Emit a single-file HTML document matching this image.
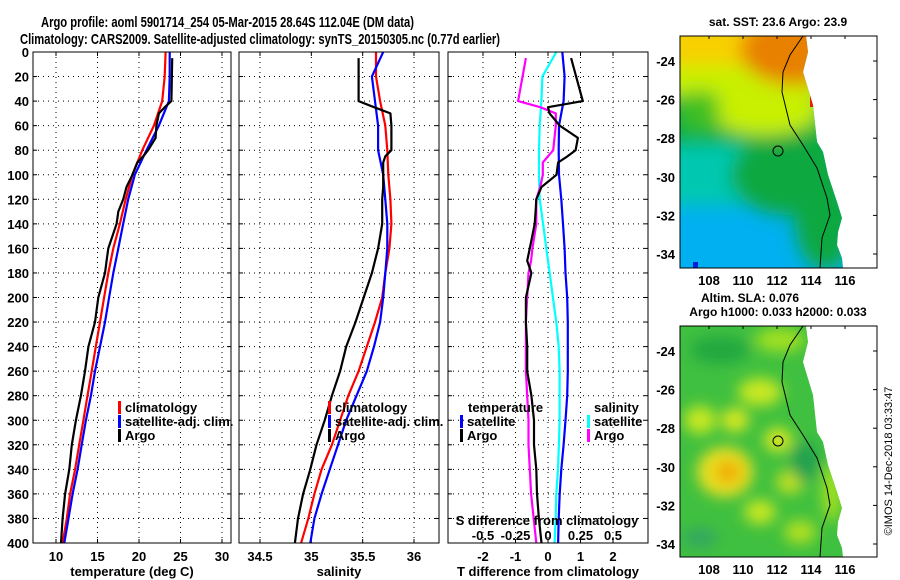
<!DOCTYPE html>
<html><head><meta charset="utf-8"><style>
html,body{margin:0;padding:0;background:#fff;}
svg{display:block;font-family:"Liberation Sans",sans-serif;font-weight:bold;}
</style></head><body>
<svg id="fig" width="900" height="580" viewBox="0 0 900 580" xmlns="http://www.w3.org/2000/svg">
<defs>
<filter id="blur1" x="-20%" y="-20%" width="140%" height="140%"><feGaussianBlur stdDeviation="9"/></filter>
<filter id="blur2" x="-20%" y="-20%" width="140%" height="140%"><feGaussianBlur stdDeviation="7"/></filter>
<clipPath id="cm1"><path d="M680,36 L806,36 L808,52 L803,72 L813,105 L817,142 L823,152 L828,175 L837,202 L842,218 L838,232 L837,245 L842,258 L843,268 L680,268 Z"/></clipPath>
<clipPath id="cm2"><path d="M680,326 L806,326 L808,342 L803,362 L813,395 L817,432 L823,442 L828,465 L837,492 L842,508 L838,522 L837,535 L842,548 L843,557 L680,557 Z"/></clipPath>
</defs>
<text x="41" y="27" font-size="15" textLength="373" lengthAdjust="spacingAndGlyphs">Argo profile: aoml 5901714_254 05-Mar-2015 28.64S 112.04E (DM data)</text>
<text x="20" y="44" font-size="15" textLength="480" lengthAdjust="spacingAndGlyphs">Climatology: CARS2009. Satellite-adjusted climatology: synTS_20150305.nc (0.77d earlier)</text>
<g id="plots"></g>

<!-- Map 1: SST -->
<g>
<text x="778" y="26" font-size="12" text-anchor="middle">sat. SST: 23.6 Argo: 23.9</text>
<g clip-path="url(#cm1)">
<rect x="680" y="36" width="170" height="232" fill="#00b0f0"/>
<g filter="url(#blur1)">
<rect x="660" y="20" width="200" height="185" fill="#00c8b0"/>
<rect x="660" y="20" width="200" height="125" fill="#10b040"/>
<ellipse cx="790" cy="175" rx="60" ry="40" fill="#10a840"/>
<ellipse cx="825" cy="220" rx="30" ry="50" fill="#10a840"/>
<rect x="660" y="20" width="200" height="75" fill="#c8f000"/>
<ellipse cx="765" cy="110" rx="55" ry="25" fill="#c8f000"/>
<rect x="660" y="20" width="200" height="45" fill="#f8d000"/>
<ellipse cx="795" cy="50" rx="55" ry="35" fill="#e88000"/>
<ellipse cx="700" cy="110" rx="20" ry="20" fill="#40c020"/>
</g>
<rect x="810" y="95" width="8" height="12" fill="#e82000"/>
<rect x="693" y="262" width="5" height="6" fill="#0020e0"/>
</g>
<path d="M803,36 L790,55 L783,72 L782,92 L790,125 L803,145 L817,168 L827,198 L830,215 L822,238 L820,268" fill="none" stroke="#000" stroke-width="1"/>
<circle cx="778" cy="151" r="5" fill="none" stroke="#000" stroke-width="1"/>
<rect x="680" y="36" width="197" height="232" fill="none" stroke="#000" stroke-width="1"/>
</g>

<!-- Map 2: SLA -->
<g>
<text x="750" y="302" font-size="12" text-anchor="middle">Altim. SLA: 0.076</text>
<text x="778" y="316" font-size="12" text-anchor="middle">Argo h1000: 0.033 h2000: 0.033</text>
<g clip-path="url(#cm2)">
<rect x="680" y="326" width="170" height="231" fill="#40c040"/>
<g filter="url(#blur2)">
<ellipse cx="720" cy="350" rx="30" ry="14" fill="#20a840"/>
<ellipse cx="780" cy="340" rx="25" ry="12" fill="#a0e020"/>
<ellipse cx="760" cy="392" rx="22" ry="14" fill="#c8e820"/>
<ellipse cx="700" cy="420" rx="16" ry="14" fill="#c8e820"/>
<ellipse cx="735" cy="420" rx="14" ry="12" fill="#d8e820"/>
<ellipse cx="725" cy="472" rx="28" ry="25" fill="#e8e020"/>
<ellipse cx="728" cy="472" rx="14" ry="12" fill="#f0b000"/>
<ellipse cx="778" cy="440" rx="14" ry="12" fill="#d8e820"/>
<ellipse cx="790" cy="482" rx="14" ry="12" fill="#c0e020"/>
<ellipse cx="760" cy="512" rx="16" ry="12" fill="#c8e820"/>
<ellipse cx="805" cy="462" rx="14" ry="20" fill="#20a050"/>
<ellipse cx="700" cy="538" rx="18" ry="10" fill="#30a860"/>
<ellipse cx="800" cy="532" rx="16" ry="12" fill="#b0e020"/>
<ellipse cx="832" cy="492" rx="10" ry="30" fill="#a0e020"/>
</g>
</g>
<path d="M803,326 L790,345 L783,362 L782,382 L790,415 L803,435 L817,458 L827,488 L830,505 L822,528 L820,557" fill="none" stroke="#000" stroke-width="1"/>
<circle cx="778" cy="441" r="5" fill="none" stroke="#000" stroke-width="1"/>
<rect x="680" y="326" width="197" height="231" fill="none" stroke="#000" stroke-width="1"/>
</g>
<g id="mapaxes"></g>
<text transform="translate(892,461) rotate(-90)" font-size="11" font-weight="normal" text-anchor="middle">©IMOS 14-Dec-2018 03:33:47</text>
</svg>
<script>
const depths = [0,20,40,60,80,100,120,140,160,180,200,220,240,260,280,300,320,340,360,380,400];
const tempClim = [23.2,23.1,22.8,21.8,20.4,19.2,18.4,17.7,16.9,16.3,15.8,15.3,14.8,14.3,13.8,13.3,12.8,12.3,11.7,11.3,10.8];
const tempSat = [23.7,23.7,23.6,22.4,20.9,19.5,18.7,18.1,17.5,16.9,16.4,15.9,15.3,14.7,14.2,13.6,13.1,12.6,12.0,11.5,11.0];
const argoDepths = [5,40,45,50,60,70,80,85,90,100,110,120,130,140,160,170,180,200,220,240,260,280,300,320,340,360,380,400];
const tempArgo = [24.0,23.9,23.1,22.4,22.1,22.0,21.1,20.5,19.8,19.2,18.5,18.1,17.5,17.3,16.3,16.1,15.9,15.1,14.7,13.9,13.5,13.0,12.4,11.9,11.6,11.1,10.8,10.6];
const salClim = [35.63,35.63,35.67,35.72,35.74,35.75,35.77,35.78,35.76,35.72,35.69,35.62,35.54,35.46,35.36,35.28,35.20,35.10,35.03,34.97,34.90];
const salSat = [35.70,35.59,35.62,35.65,35.65,35.70,35.72,35.74,35.74,35.72,35.70,35.67,35.61,35.54,35.44,35.34,35.26,35.18,35.10,35.03,34.99];
const salArgo = [35.46,35.46,35.61,35.77,35.78,35.78,35.78,35.72,35.70,35.70,35.70,35.69,35.69,35.69,35.65,35.62,35.59,35.51,35.43,35.34,35.28,35.20,35.13,35.05,34.99,34.92,34.87,34.84];
const tDiffSat = [0.44,0.51,0.48,0.34,0.33,0.34,0.41,0.46,0.51,0.54,0.59,0.61,0.61,0.61,0.59,0.54,0.48,0.41,0.36,0.33,0.31];
const tDiffArgo = [0.71,1.07,0.0,0.05,0.36,0.92,0.85,0.6,0.31,0.26,-0.2,-0.36,-0.38,-0.41,-0.56,-0.64,-0.51,-0.68,-0.68,-0.64,-0.64,-0.51,-0.43,-0.43,-0.36,-0.34,-0.28,-0.2];
const sDiffSat = [0.064,-0.043,-0.051,-0.064,-0.069,-0.069,-0.064,-0.038,-0.013,0.013,0.038,0.064,0.082,0.089,0.089,0.089,0.084,0.077,0.064,0.059,0.051];
const sDiffArgo = [-0.17,-0.23,-0.06,0.06,0.06,0.05,0.04,0.0,-0.04,-0.04,-0.06,-0.09,-0.09,-0.09,-0.12,-0.13,-0.15,-0.16,-0.17,-0.17,-0.17,-0.16,-0.15,-0.15,-0.14,-0.13,-0.11,-0.09];
const depthTicks = [0,20,40,60,80,100,120,140,160,180,200,220,240,260,280,300,320,340,360,380,400];
const tempTicks = [10,15,20,25,30];
const salTicks = [34.5,35,35.5,36];
const tDiffTicks = [-2,-1,0,1,2];
const sDiffTicks = [-0.5,-0.25,0,0.25,0.5];
const sDiffTickLabels = ["-0.5","-0.25","0","0.25","0.5"];
const latTicks = [-24,-26,-28,-30,-32,-34];
const lonTicks = [108,110,112,114,116];

const NS='http://www.w3.org/2000/svg';
const root=document.getElementById('plots');
function mk(tag,attrs,parent){const e=document.createElementNS(NS,tag);for(const k in attrs)e.setAttribute(k,attrs[k]);(parent||root).appendChild(e);return e;}
const Y0=52,Y1=543;
function yD(d){return Y0+(d/400)*(Y1-Y0);}
function makeX(x0,x1,v0,v1){return v=>x0+(v-v0)/(v1-v0)*(x1-x0);}

function panel(name,x0,x1,xs,ticks,labels,xlabel,showDepth){
  const g=mk('g',{});
  
  
  depthTicks.forEach((d,i)=>{
    if(d>0&&d<400){const l=mk('line',{x1:x0,x2:x1,y1:yD(d),y2:yD(d),stroke:'#000','stroke-width':1,'stroke-dasharray':'1,4'},g);
    
    }
    mk('line',{x1:x0,x2:x0+4,y1:yD(d),y2:yD(d),stroke:'#000'},g);
    mk('line',{x1:x1-4,x2:x1,y1:yD(d),y2:yD(d),stroke:'#000'},g);
    if(showDepth){const t=mk('text',{x:x0-4,y:yD(d)+5,'font-size':13,'text-anchor':'end'},g);t.textContent=d;
    
    }
  });
  ticks.forEach((v,i)=>{
    const x=xs(v);
    const l=mk('line',{x1:x,x2:x,y1:Y0,y2:Y1,stroke:'#000','stroke-width':1,'stroke-dasharray':'1,4'},g);
    
    
    mk('line',{x1:x,x2:x,y1:Y0,y2:Y0+4,stroke:'#000'},g);
    mk('line',{x1:x,x2:x,y1:Y1-4,y2:Y1,stroke:'#000'},g);
    const t=mk('text',{x:x,y:Y1+18,'font-size':13,'text-anchor':'middle'},g);t.textContent=labels[i];
    
    
  });
  const t=mk('text',{x:(x0+x1)/2,y:576,'font-size':13,'text-anchor':'middle'},g);t.textContent=xlabel;
  
  
  return g;
}
function frame(g,x0,x1){mk('rect',{x:x0,y:Y0,width:x1-x0,height:Y1-Y0,fill:'none',stroke:'#000','stroke-width':1},g);}
function line(g,name,xs,vals,ds,color){
  const p=vals.map((v,i)=>xs(v).toFixed(1)+','+yD(ds[i]).toFixed(1)).join(' ');
  const e=mk('polyline',{points:p,fill:'none',stroke:color,'stroke-width':2.2,'stroke-linejoin':'round'},g);
  
  
}
function legend(g,x,y,color,label){
  mk('rect',{x:x,y:y-11,width:3,height:13,fill:color},g);
  const t=mk('text',{x:x+7,y:y,'font-size':13},g);t.textContent=label;
  
  
}

// Panel 1 temperature
const xT=makeX(56,222,10,30);
const g1=panel('temperature-panel',33,231,xT,tempTicks,tempTicks.map(String),'temperature (deg C)',true);
line(g1,'temp-climatology-line',xT,tempClim,depths,'#ff0000');
line(g1,'temp-satellite-line',xT,tempSat,depths,'#0000ff');
line(g1,'temp-argo-line',xT,tempArgo,argoDepths,'#000000');
legend(g1,118,412,'#ff0000','climatology');
legend(g1,118,426,'#0000ff','satellite-adj. clim.');
legend(g1,118,440,'#000000','Argo');
frame(g1,33,231);

// Panel 2 salinity
const xS=makeX(260,414,34.5,36);
const g2=panel('salinity-panel',239,439,xS,salTicks,salTicks.map(String),'salinity',false);
line(g2,'sal-climatology-line',xS,salClim,depths,'#ff0000');
line(g2,'sal-satellite-line',xS,salSat,depths,'#0000ff');
line(g2,'sal-argo-line',xS,salArgo,argoDepths,'#000000');
legend(g2,328,412,'#ff0000','climatology');
legend(g2,328,426,'#0000ff','satellite-adj. clim.');
legend(g2,328,440,'#000000','Argo');
frame(g2,239,439);

// Panel 3 differences
const xTd=makeX(548,613,0,2);
const xSd=makeX(548,613,0,0.5);
const g3=panel('difference-panel',448,648,xTd,tDiffTicks,tDiffTicks.map(String),'T difference from climatology',false);
line(g3,'tdiff-satellite-line',xTd,tDiffSat,depths,'#0000ff');
line(g3,'sdiff-satellite-line',xSd,sDiffSat,depths,'#00ffff');
line(g3,'sdiff-argo-line',xSd,sDiffArgo,argoDepths,'#ff00ff');
line(g3,'tdiff-argo-line',xTd,tDiffArgo,argoDepths,'#000000');
(function(){const t=mk('text',{x:468,y:412,'font-size':13},g3);t.textContent='temperature';


const s=mk('text',{x:594,y:412,'font-size':13},g3);s.textContent='salinity';

})();
legend(g3,460,426,'#0000ff','satellite');
legend(g3,460,440,'#000000','Argo');
legend(g3,587,426,'#00ffff','satellite');
legend(g3,587,440,'#ff00ff','Argo');
(function(){const t=mk('text',{x:547,y:525,'font-size':13,'text-anchor':'middle'},g3);t.textContent='S difference from climatology';


sDiffTicks.forEach((v,i)=>{const l=mk('text',{x:xSd(v),y:540,'font-size':13,'text-anchor':'middle'},g3);l.textContent=sDiffTickLabels[i];

});})();
frame(g3,448,648);

// map axes
const ma=document.getElementById('mapaxes');
function lonX(l){return 709+(l-108)/8*136;}
[[36,268,61],[326,557,351]].forEach((m,mi)=>{
  latTicks.forEach(lt=>{const y=m[2]+(-24-lt)/10*193;
    mk('line',{x1:873,x2:877,y1:y,y2:y,stroke:'#000'},ma);
    const t=mk('text',{x:675,y:y+5,'font-size':13,'text-anchor':'end'},ma);t.textContent=lt;
    
    });
  lonTicks.forEach(ln=>{const x=lonX(ln);
    mk('line',{x1:x,x2:x,y1:m[0],y2:m[0]+3,stroke:'#000'},ma);
    const t=mk('text',{x:x,y:m[1]+17,'font-size':13,'text-anchor':'middle'},ma);t.textContent=ln;
    
    });
});
</script>
</body></html>
